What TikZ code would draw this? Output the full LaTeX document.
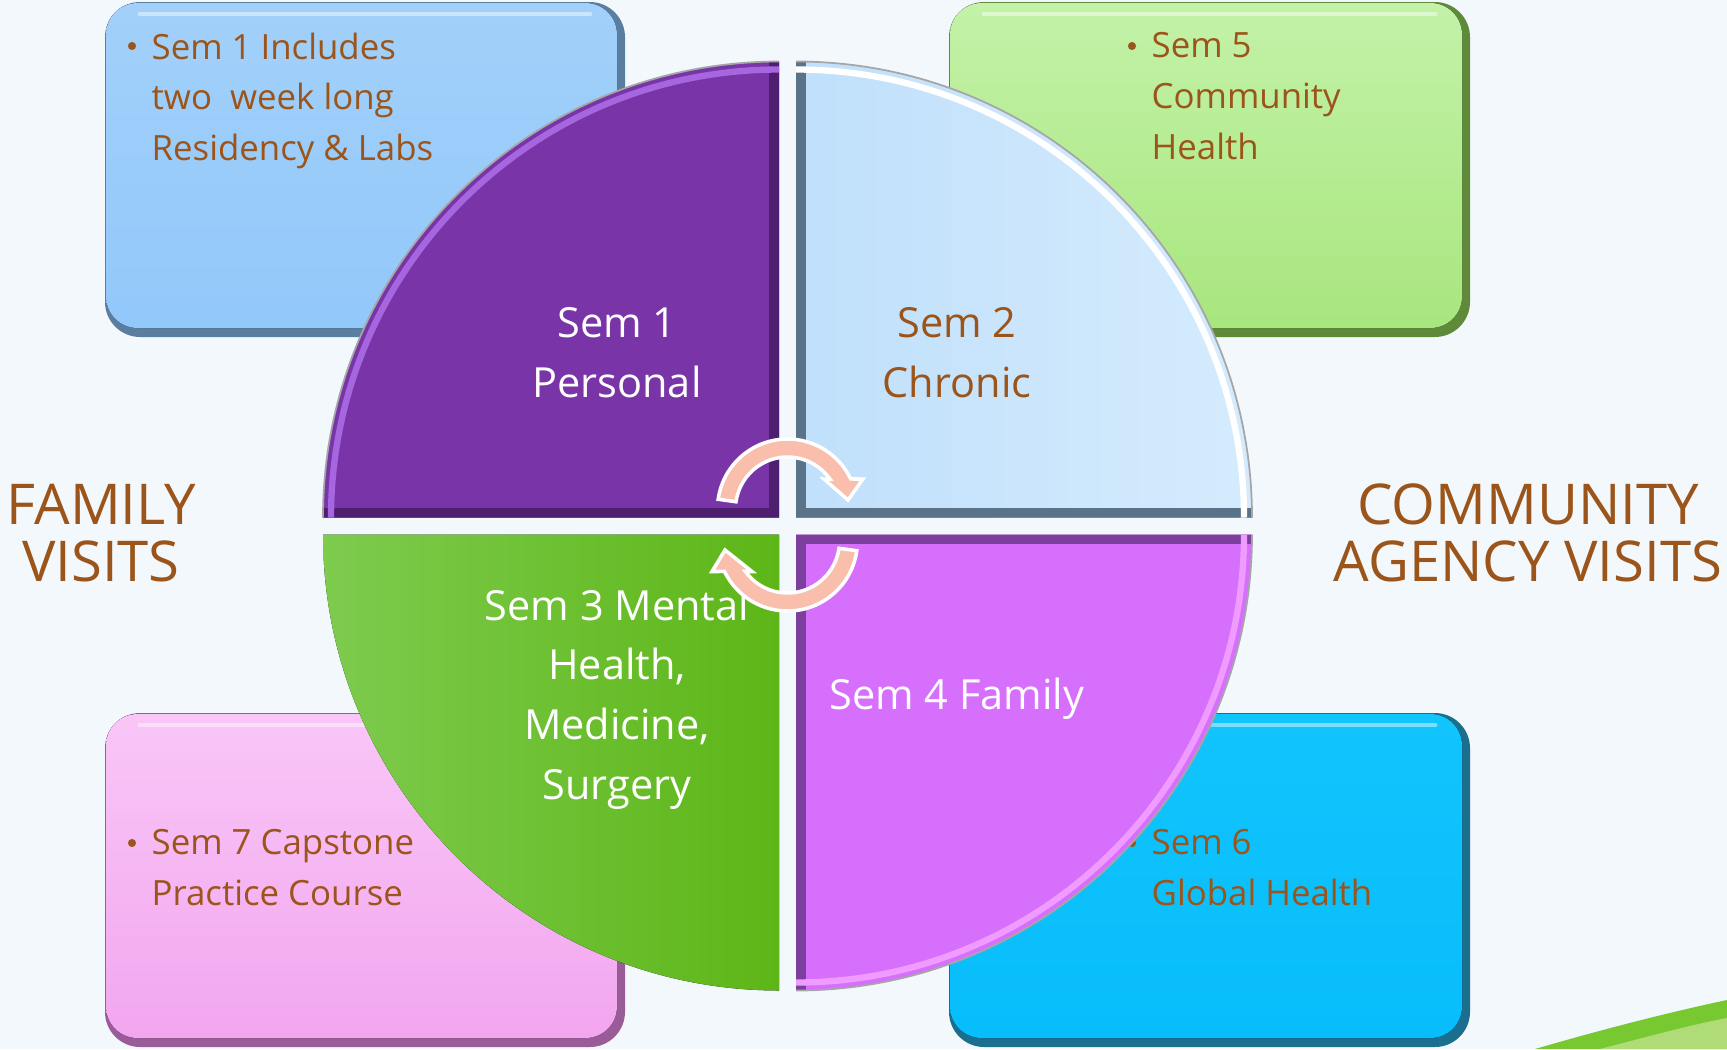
\documentclass[tikz,border=0pt]{standalone}
\usepackage{fontspec}
\setmainfont{Open Sans}
\usetikzlibrary{calc}

\definecolor{bgcol}{HTML}{F3F8FC}
\definecolor{txtbrown}{HTML}{9B5419}
\definecolor{arrowfill}{HTML}{F9BFAC}
\definecolor{swoosh}{HTML}{78C832}
\definecolor{swooshlight}{HTML}{B0DC78}
% corner boxes
\definecolor{bluemain}{HTML}{92C8FA}
\definecolor{bluetop}{HTML}{A2D0FA}
\definecolor{bluedark}{HTML}{5A7EA0}
\definecolor{greenmain}{HTML}{A8E67E}
\definecolor{greentop}{HTML}{C3F2A8}
\definecolor{greendark}{HTML}{5E8A3A}
\definecolor{pinkmain}{HTML}{F2A6EF}
\definecolor{pinktop}{HTML}{F9C6F7}
\definecolor{pinkdark}{HTML}{9A5C98}
\definecolor{cyanmain}{HTML}{07BDFB}
\definecolor{cyantop}{HTML}{12C4FC}
\definecolor{cyandark}{HTML}{1A6E8E}
% quadrants
\definecolor{purplemain}{HTML}{7935A8}
\definecolor{purpledark}{HTML}{4E1F6E}
\definecolor{purplelight}{HTML}{A566E0}
\definecolor{skyleft}{HTML}{BFDFFB}
\definecolor{skyright}{HTML}{D6ECFD}
\definecolor{skydark}{HTML}{5B7389}
\definecolor{leafleft}{HTML}{7ECB4E}
\definecolor{leafright}{HTML}{5DB617}
\definecolor{magentamain}{HTML}{D66FFC}
\definecolor{magentadark}{HTML}{7D3F9E}
\definecolor{magentalight}{HTML}{F09BFF}

\begin{document}
\begin{tikzpicture}[x=0.1mm, y=0.1mm,
    boxtext/.style={text=txtbrown, font=\fontsize{9.9}{14.4}\selectfont, align=left, anchor=north west, inner sep=0pt},
    bulletdot/.style={circle, fill=txtbrown, inner sep=0pt, minimum size=2.3pt},
    quadtext/.style={font=\fontsize{11.8}{17}\selectfont, align=center, inner sep=0pt},
    sidetext/.style={text=txtbrown, font=\fontsize{16}{16.2}\selectfont, align=center, inner sep=0pt},
    edgeband/.style={line width=5.6pt},
    rimlight/.style={line width=1.8pt},
    gloss/.style={white, opacity=0.45, line width=1.4pt, line cap=round},
    cycarrow/.style={fill=arrowfill, draw=white, line width=1pt, line join=miter}]

	% Background
	\fill[bgcol] (0,0) rectangle (1727,-1049);
	\useasboundingbox (0,0) rectangle (1727,-1049);
	\fill[swoosh] (1535,-1049) .. controls (1600,-1030) and (1670,-1012) .. (1727,-1000) -- (1727,-1049) -- cycle;
	\fill[swooshlight] (1600,-1049) .. controls (1650,-1036) and (1690,-1025) .. (1727,-1018) -- (1727,-1049) -- cycle;

	% Corner boxes
	\fill[rounded corners=10pt, bluedark] (105,-2) rectangle (625,-337);
	\fill[rounded corners=9pt, top color=bluetop, bottom color=bluemain] (106,-3) rectangle (617,-328);
	\draw[gloss] (140,-14) -- (590,-14);
	\fill[rounded corners=10pt, greendark] (949,-2) rectangle (1470,-337);
	\fill[rounded corners=9pt, top color=greentop, bottom color=greenmain] (950,-3) rectangle (1462,-328);
	\draw[gloss] (984,-14) -- (1435,-14);
	\fill[rounded corners=10pt, pinkdark] (105,-713) rectangle (625,-1047);
	\fill[rounded corners=9pt, top color=pinktop, bottom color=pinkmain] (106,-714) rectangle (617,-1038);
	\draw[gloss] (140,-725) -- (590,-725);
	\fill[rounded corners=10pt, cyandark] (949,-713) rectangle (1470,-1047);
	\fill[rounded corners=9pt, top color=cyantop, bottom color=cyanmain] (950,-714) rectangle (1462,-1038);
	\draw[gloss] (984,-725) -- (1435,-725);

	% Box texts
	\node[bulletdot] (dot1) at (132,-46) {};
	\node[boxtext] (sem1box) at (151,-32) {Sem 1 Includes\\two\ \ week long\\Residency \& Labs};
	\node[bulletdot] (dot5) at (1132,-46) {};
	\node[boxtext] (sem5box) at (1151,-32) {Sem 5\\Community\\Health};
	\node[bulletdot] (dot7) at (132,-843) {};
	\node[boxtext] (sem7box) at (151,-829) {Sem 7 Capstone\\Practice Course};
	\node[bulletdot] (dot6) at (1132,-843) {};
	\node[boxtext] (sem6box) at (1151,-829) {Sem 6\\Global Health};

	% Sem 1 quadrant
	\begin{scope}
		\clip (779,-517.5) -- (323,-517.5) arc[start angle=180, end angle=90, radius=456] -- cycle;
		\fill[purplemain] (300,-40) rectangle (800,-530);
		\draw[purpledark, edgeband] (779,-40) -- (779,-517.5) -- (300,-517.5);
		\draw[purplelight, rimlight] (331,-517.5) arc[start angle=180, end angle=90, radius=448];
	\end{scope}
	\draw[gray!70, line width=0.5pt] (323,-517.5) arc[start angle=180, end angle=90, radius=456];

	% Sem 2 quadrant
	\begin{scope}
		\clip (796,-517.5) -- (796,-61.5) arc[start angle=90, end angle=0, radius=456] -- cycle;
		\fill[left color=skyleft, right color=skyright] (780,-40) rectangle (1270,-530);
		\draw[skydark, edgeband] (796,-40) -- (796,-517.5) -- (1270,-517.5);
		\draw[white, rimlight] (796,-69.5) arc[start angle=90, end angle=0, radius=448];
	\end{scope}
	\draw[gray!70, line width=0.5pt] (796,-61.5) arc[start angle=90, end angle=0, radius=456];

	% Sem 3 quadrant
	\fill[left color=leafleft, right color=leafright] (779,-534.5) -- (323,-534.5) arc[start angle=180, end angle=270, radius=456] -- cycle;

	% Sem 4 quadrant
	\begin{scope}
		\clip (796,-534.5) -- (1252,-534.5) arc[start angle=0, end angle=-90, radius=456] -- cycle;
		\fill[magentamain] (780,-520) rectangle (1270,-1010);
		\draw[magentadark, edgeband] (796,-1010) -- (796,-534.5) -- (1270,-534.5);
		\draw[magentalight, rimlight] (1244,-534.5) arc[start angle=0, end angle=-90, radius=448];
	\end{scope}
	\draw[gray!70, line width=0.5pt] (1252,-534.5) arc[start angle=0, end angle=-90, radius=456];

	% Quadrant labels
	\node[quadtext, text=white] (sem1) at (617,-353) {Sem 1\\Personal};
	\node[quadtext, text=txtbrown] (sem2) at (957,-353) {Sem 2\\Chronic};
	\node[quadtext, text=white] (sem3) at (617,-699) {Sem 3 Mental\\Health,\\Medicine,\\Surgery};
	\node[quadtext, text=white] (sem4) at (957,-699) {Sem 4 Family};

	% Cycle arrows
	\coordinate (topc) at (787.5,-509);
	\coordinate (botc) at (787.5,-541);
	\draw[cycarrow] ($(topc)+(172:70)$) arc[start angle=172, end angle=25.4, radius=70]
		-- (863,-479) -- (848,-500) -- (824,-479)
		-- ($(topc)+(35.2:52)$) arc[start angle=35.2, end angle=172, radius=52] -- cycle;
	\draw[cycarrow] ($(botc)+(-8:70)$) arc[start angle=-8, end angle=-154.2, radius=70]
		-- (712,-571.5) -- (725,-550) -- (752,-571.5)
		-- ($(botc)+(-144.1:52)$) arc[start angle=-144.1, end angle=-8, radius=52] -- cycle;

	% Side labels
	\node[sidetext] (family) at (101,-533) {FAMILY\\VISITS};
	\node[sidetext] (community) at (1528,-533) {COMMUNITY\\AGENCY VISITS};
\end{tikzpicture}
\end{document}
